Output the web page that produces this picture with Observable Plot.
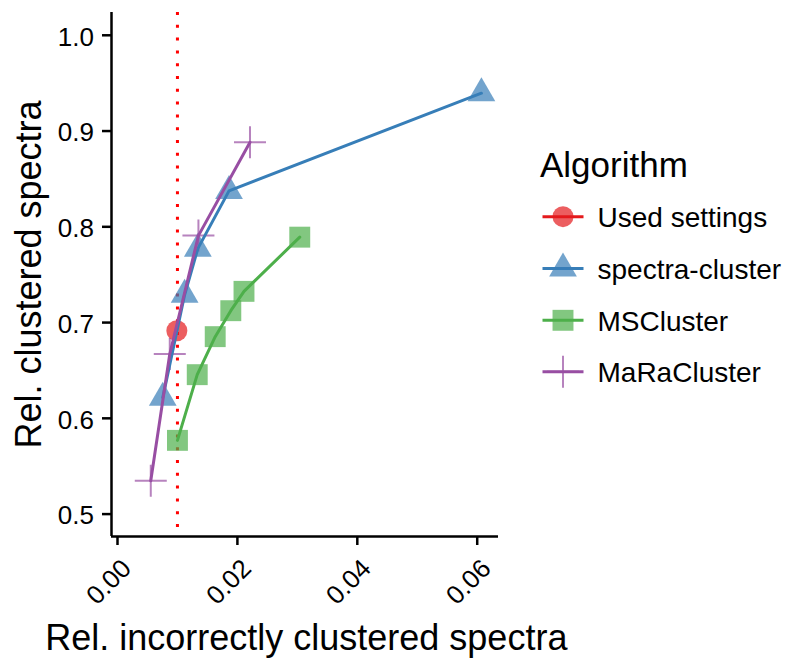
<!DOCTYPE html>
<html>
<head>
<meta charset="utf-8">
<script src="https://cdn.jsdelivr.net/npm/d3@7"></script>
<script src="https://cdn.jsdelivr.net/npm/@observablehq/plot@0.6"></script>
<style>
  html, body { margin: 0; padding: 0; background: #fff; }
  #wrap { position: relative; width: 800px; height: 667px; font-family: "Liberation Sans", Arial, Helvetica, sans-serif; }
  #legend { position: absolute; left: 0; top: 0; pointer-events: none; }
</style>
</head>
<body>
<div id="wrap"></div>
<script>
// ---- data ----
const algorithms = ["Used settings", "spectra-cluster", "MSCluster", "MaRaCluster"];
const colors = ["#E41A1C", "#377EB8", "#4DAF4A", "#984EA3"];

const usedX = [0.0099];
const usedY = [0.6915];

const spectraX = [0.00755, 0.0112, 0.0134, 0.0186, 0.0607];
const spectraY = [0.6216, 0.7290, 0.7772, 0.8375, 0.9395];

const msclusterX = [0.0100, 0.0133, 0.0163, 0.0189, 0.0211, 0.0304];
const msclusterY = [0.5770, 0.6456, 0.6853, 0.7124, 0.7326, 0.7892];

const maraX = [0.00555, 0.00872, 0.0135, 0.0221];
const maraY = [0.5348, 0.6672, 0.7908, 0.8883];

const vlineX = [0.01];
const xTicks = [0, 0.02, 0.04, 0.06];
const yTicks = [0.5, 0.6, 0.7, 0.8, 0.9, 1.0];
const xDomain = [-0.001, 0.06355];
const yDomain = [0.4766, 1.0238];
const xTitle = "Rel. incorrectly clustered spectra";
const yTitle = "Rel. clustered spectra";
const legendTitle = "Algorithm";

// ---- build tables ----
const toRows = (xs, ys, alg) => xs.map((x, i) => ({x, y: ys[i], alg}));
const used = toRows(usedX, usedY, algorithms[0]);
const spectra = toRows(spectraX, spectraY, algorithms[1]).sort((a, b) => a.x - b.x);
const mscl = toRows(msclusterX, msclusterY, algorithms[2]).sort((a, b) => a.x - b.x);
const mara = toRows(maraX, maraY, algorithms[3]).sort((a, b) => a.x - b.x);

const plusSymbol = {
  draw(ctx, size) {
    const h = Math.sqrt(size / Math.PI);
    ctx.moveTo(-h, 0); ctx.lineTo(h, 0);
    ctx.moveTo(0, -h); ctx.lineTo(0, h);
  }
};

const font = '"Liberation Sans", Arial, Helvetica, sans-serif';
const blank = () => "";

const chart = Plot.plot({
  width: 800,
  height: 667,
  marginLeft: 111,
  marginRight: 302,
  marginTop: 12,
  marginBottom: 131,
  style: { fontFamily: font, background: "white", color: "black" },
  x: { domain: xDomain },
  y: { domain: yDomain },
  marks: [
    Plot.ruleX(vlineX, { stroke: "#FF0000", strokeWidth: 3, strokeDasharray: "3 9.8" }),
    Plot.dot(used, { x: "x", y: "y", r: 10.5, symbol: "circle", fill: colors[0], fillOpacity: 0.7, stroke: "none" }),
    Plot.dot(spectra, { x: "x", y: "y", r: 10.3, symbol: "triangle", fill: colors[1], fillOpacity: 0.7, stroke: "none" }),
    Plot.dot(mscl, { x: "x", y: "y", r: 11.8, symbol: "square", fill: colors[2], fillOpacity: 0.7, stroke: "none" }),
    Plot.dot(mara, { x: "x", y: "y", r: 16, symbol: plusSymbol, fill: "none", stroke: colors[3], strokeOpacity: 0.7, strokeWidth: 2 }),
    Plot.line(spectra, { x: "x", y: "y", stroke: colors[1], strokeWidth: 3 }),
    Plot.line(mscl, { x: "x", y: "y", stroke: colors[2], strokeWidth: 3 }),
    Plot.line(mara, { x: "x", y: "y", stroke: colors[3], strokeWidth: 3 }),
    // tick marks
    Plot.axisY({ ticks: yTicks, tickSize: 9, tickFormat: blank, label: null, strokeWidth: 2.5 }),
    Plot.axisX({ ticks: xTicks, tickSize: 9, tickFormat: blank, label: null, strokeWidth: 2.5 }),
    // tick labels
    Plot.axisY({ ticks: yTicks, tickSize: 0, tickPadding: 17.5, fontSize: 26, dy: 2, tickFormat: d3.format(".1f"), label: null }),
    Plot.axisX({ ticks: xTicks, tickSize: 0, tickPadding: 27.7, tickRotate: -45, fontSize: 26, dx: 9.4, tickFormat: d3.format(".2f"), label: null }),
    Plot.ruleY([yDomain[0]], { strokeWidth: 2.5 }),
    Plot.ruleX([xDomain[0]], { strokeWidth: 2.5 }),
    Plot.text([xTitle], { frameAnchor: "bottom", textAnchor: "middle", lineAnchor: "bottom", dx: 1.3, dy: 113, fontSize: 36, fill: "black" }),
    Plot.text([yTitle], { frameAnchor: "left", textAnchor: "middle", rotate: -90, lineAnchor: "bottom", dx: -71, fontSize: 36, fill: "black" })
  ]
});

const wrap = document.getElementById("wrap");
wrap.appendChild(chart);

// ---- legend (HTML overlay SVG) ----
const ns = "http://www.w3.org/2000/svg";
const leg = document.createElementNS(ns, "svg");
leg.setAttribute("id", "legend");
leg.setAttribute("width", 800);
leg.setAttribute("height", 667);
const mk = (tag, attrs, text) => {
  const el = document.createElementNS(ns, tag);
  for (const k in attrs) el.setAttribute(k, attrs[k]);
  if (text != null) el.textContent = text;
  leg.appendChild(el);
  return el;
};
mk("text", { x: 540, y: 177, "font-size": 35, "font-family": font, fill: "black" }, legendTitle);
const rowY = [216.7, 268.5, 320.3, 371.8];
const kx = 563;
algorithms.forEach((name, i) => {
  const cy = rowY[i];
  mk("line", { x1: kx - 20.5, x2: kx + 20.5, y1: cy, y2: cy, stroke: colors[i], "stroke-width": 3 });
  if (i === 0) {
    mk("circle", { cx: kx, cy, r: 10.5, fill: colors[0], "fill-opacity": 0.7 });
  } else if (i === 1) {
    const s = d3.symbol(d3.symbolTriangle, Math.PI * 10.3 * 10.3)();
    mk("path", { d: s, transform: `translate(${kx},${cy})`, fill: colors[1], "fill-opacity": 0.7 });
  } else if (i === 2) {
    const h = 11.8 * Math.sqrt(Math.PI) / 2;
    mk("rect", { x: kx - h, y: cy - h, width: 2 * h, height: 2 * h, fill: colors[2], "fill-opacity": 0.7 });
  } else {
    mk("path", { d: `M${kx - 16},${cy}H${kx + 16}M${kx},${cy - 16}V${cy + 16}`, stroke: colors[3], "stroke-opacity": 0.7, "stroke-width": 2, fill: "none" });
  }
  mk("text", { x: 597.5, y: cy + 10.2, "font-size": 28, "font-family": font, fill: "black" }, name);
});
wrap.appendChild(leg);
</script>
</body>
</html>
